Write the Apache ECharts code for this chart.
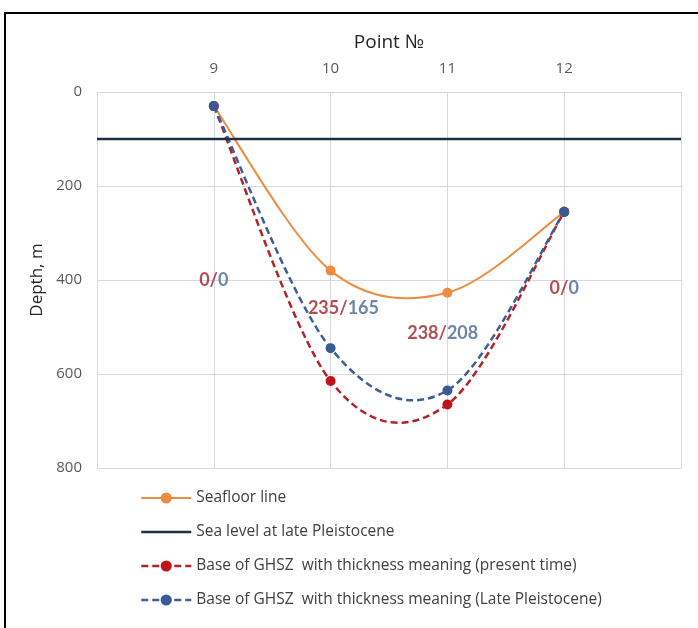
<!DOCTYPE html>
<html>
<head>
<meta charset="utf-8">
<script src="https://cdn.jsdelivr.net/npm/echarts@6/dist/echarts.min.js"></script>
<style>
  html, body { margin: 0; padding: 0; background: #fff; }
  #frame { position: absolute; left: 4px; top: 12px; width: 694px; height: 616px;
           border-left: 2px solid #000; border-top: 2px solid #000; box-sizing: border-box; }
  #chart { position: absolute; left: 0; top: 0; width: 698px; height: 628px; }
</style>
</head>
<body>
<div id="frame"></div>
<div id="chart"></div>
<script>
// Survey points along the profile
const points = [9, 10, 11, 12];
// Depths, m
const seafloor = [30, 380, 427, 255];
const ghszPresent = [30, 615, 665, 255];
const ghszLatePleistocene = [30, 545, 635, 255];
// Sea level during the late Pleistocene, m
const seaLevelLate = 100;
const xTicks = [9, 10, 11, 12];
const depthTicks = [0, 200, 400, 600, 800];

// Where the thickness notes sit (point №, depth)
const noteAnchors = [[9, 400], [10.11, 460], [10.96, 513], [12, 417]];

const FONT = '"Open Sans", Lato, sans-serif';
const NOTE_FONT = 'Lato, "Open Sans", sans-serif';
const RED = '#c0141c';
const RED_LINE = '#b0232b';
const BLUE = '#3a5a94';
const BLUE_LINE = '#3d5f96';
const ORANGE = '#ee8c40';
const NAVY = '#1b2f48';
const DASH = [7, 4];

const NAMES = {
  seafloor: 'Seafloor line',
  sea: 'Sea level at late Pleistocene',
  present: 'Base of GHSZ  with thickness meaning (present time)',
  late: 'Base of GHSZ  with thickness meaning (Late Pleistocene)'
};

const toPairs = arr => points.map((p, i) => [p, arr[i]]);

const notes = noteAnchors.map((a, i) => ({
  value: a,
  present: ghszPresent[i] - seafloor[i],
  late: ghszLatePleistocene[i] - seafloor[i]
}));

// Smoothed curve through the points (cardinal spline as cubic Béziers),
// converted to pixels through the chart's own axes.
function smoothCurve(depths, stroke, dash) {
  return {
    type: 'custom',
    data: toPairs(depths),
    encode: { x: 0, y: 1 },
    silent: true,
    z: 2,
    renderItem: (params, api) => {
      if (params.dataIndex !== 0) return null;
      const p = points.map((x, i) => api.coord([x, depths[i]]));
      let d = `M${p[0][0]},${p[0][1]}`;
      for (let i = 0; i < p.length - 1; i++) {
        const p0 = p[i - 1] || p[i];
        const p1 = p[i];
        const p2 = p[i + 1];
        const p3 = p[i + 2] || p[i + 1];
        const c1x = p1[0] + (p2[0] - p0[0]) / 6, c1y = p1[1] + (p2[1] - p0[1]) / 6;
        const c2x = p2[0] - (p3[0] - p1[0]) / 6, c2y = p2[1] - (p3[1] - p1[1]) / 6;
        d += ` C${c1x},${c1y} ${c2x},${c2y} ${p2[0]},${p2[1]}`;
      }
      return {
        type: 'path',
        shape: { pathData: d },
        style: { fill: null, stroke: stroke, lineWidth: dash ? 2.5 : 2, lineDash: dash || null }
      };
    }
  };
}

function markers(name, depths, color, z) {
  return {
    name: name,
    type: 'line',
    data: toPairs(depths),
    symbol: 'circle', symbolSize: 10,
    itemStyle: { color: color },
    lineStyle: { opacity: 0 },
    z: z
  };
}

const chart = echarts.init(document.getElementById('chart'), null, { renderer: 'canvas' });

chart.setOption({
  backgroundColor: 'transparent',
  animation: false,
  textStyle: { fontFamily: FONT },
  grid: { left: 97, right: 17, top: 92, bottom: 160 },
  xAxis: {
    type: 'value',
    position: 'top',
    min: 8, max: 13, interval: 1,
    name: 'Point №',
    nameLocation: 'middle',
    nameGap: 40,
    nameTextStyle: { fontSize: 19, color: '#262626', fontFamily: FONT },
    axisLine: { show: false },
    axisTick: { show: false },
    axisLabel: {
      margin: 16, fontSize: 15, color: '#595959', fontFamily: FONT,
      formatter: v => xTicks.includes(v) ? String(v) : ''
    },
    splitLine: { show: true, lineStyle: { color: '#d9d9d9', width: 1 } }
  },
  yAxis: {
    type: 'value',
    inverse: true,
    min: 0, max: 800, interval: 200,
    name: 'Depth, m',
    nameLocation: 'middle',
    nameGap: 51,
    nameTextStyle: { fontSize: 17, color: '#262626', fontFamily: FONT },
    axisLine: { show: false },
    axisTick: { show: false },
    axisLabel: {
      margin: 15, fontSize: 15, color: '#595959', fontFamily: FONT,
      formatter: v => depthTicks.includes(v) ? String(v) : ''
    },
    splitLine: { show: true, lineStyle: { color: '#d9d9d9', width: 1 } }
  },
  legend: {
    orient: 'vertical',
    left: 140, top: 490,
    padding: 0,
    itemWidth: 50, itemHeight: 14, itemGap: 18,
    textStyle: { fontSize: 15.5, color: '#404040', fontFamily: FONT },
    data: [
      { name: NAMES.seafloor, lineStyle: { opacity: 1, width: 2, color: ORANGE, type: 'solid' } },
      { name: NAMES.sea, itemStyle: { opacity: 0 }, lineStyle: { opacity: 1, width: 2.5, color: NAVY } },
      { name: NAMES.present, lineStyle: { opacity: 1, width: 2.5, color: RED_LINE, type: DASH } },
      { name: NAMES.late, lineStyle: { opacity: 1, width: 2.5, color: BLUE_LINE, type: DASH } }
    ]
  },
  series: [
    smoothCurve(seafloor, ORANGE, null),
    {
      name: NAMES.sea,
      type: 'line',
      data: [[8, seaLevelLate], [13, seaLevelLate]],
      symbol: 'none',
      itemStyle: { color: NAVY },
      lineStyle: { color: NAVY, width: 2.5 },
      z: 2
    },
    smoothCurve(ghszPresent, RED_LINE, DASH),
    smoothCurve(ghszLatePleistocene, BLUE_LINE, DASH),
    markers(NAMES.seafloor, seafloor, ORANGE, 3),
    markers(NAMES.present, ghszPresent, RED, 4),
    markers(NAMES.late, ghszLatePleistocene, BLUE, 5),
    {
      name: 'notes',
      type: 'scatter',
      data: notes,
      symbolSize: 0,
      silent: true,
      z: 6,
      label: {
        show: true,
        position: 'inside',
        formatter: p => `{r|${p.data.present}/}{b|${p.data.late}}`,
        rich: {
          r: { color: '#a3212a', fontSize: 18, fontWeight: 'bold', fontFamily: NOTE_FONT },
          b: { color: '#4a6890', fontSize: 18, fontWeight: 'bold', fontFamily: NOTE_FONT }
        }
      }
    }
  ]
});
</script>
</body>
</html>
